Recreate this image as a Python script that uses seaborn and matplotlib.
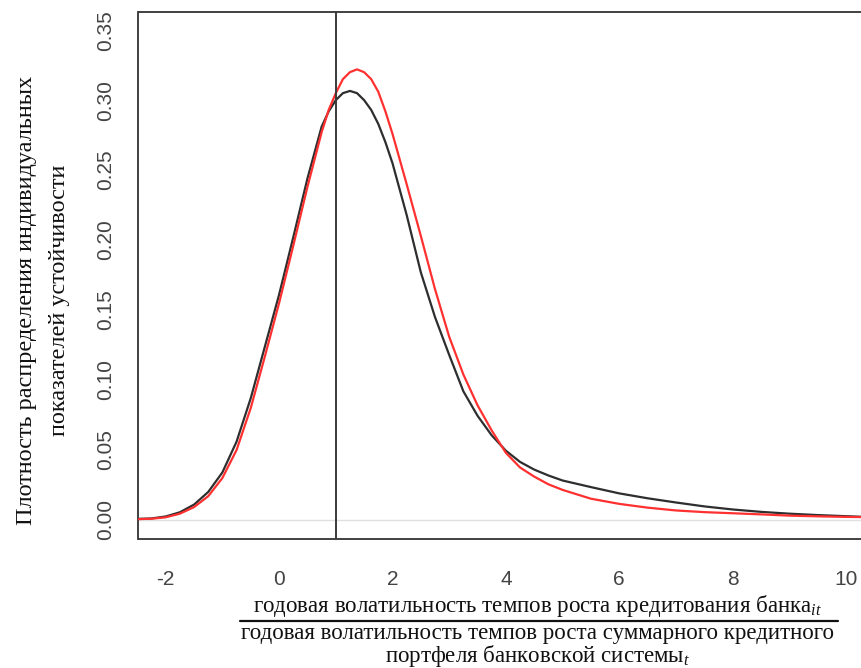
import matplotlib
matplotlib.use("Agg")
import matplotlib.pyplot as plt
import seaborn as sns
import pandas as pd
from matplotlib.lines import Line2D

# Density of individual stability indicators (two estimates)
x_black = [-2.48, -2.25, -2.0, -1.75, -1.5, -1.25, -1.0, -0.75, -0.5, -0.25, 0.0, 0.25, 0.5,
           0.75, 0.875, 1.0, 1.125, 1.25, 1.375, 1.5, 1.625, 1.75, 1.875, 2.0, 2.25, 2.5,
           2.75, 3.0, 3.25, 3.5, 3.75, 4.0, 4.25, 4.5, 4.75, 5.0, 5.5, 6.0, 6.5, 7.0, 7.5,
           8.0, 8.5, 9.0, 9.5, 10.0, 10.45]
y_black = [0.0008, 0.0011, 0.0025, 0.0055, 0.0110, 0.0200, 0.0340, 0.0560, 0.0870, 0.1240, 0.1610, 0.2020, 0.2440,
           0.2810, 0.2920, 0.3000, 0.3050, 0.3066, 0.3050, 0.3000, 0.2930, 0.2830, 0.2700, 0.2550, 0.2180, 0.1770,
           0.1450, 0.1180, 0.0920, 0.0745, 0.0605, 0.0495, 0.0415, 0.0360, 0.0318, 0.0282, 0.0235, 0.0190, 0.0155, 0.0125, 0.0097,
           0.0075, 0.0058, 0.0045, 0.0035, 0.0027, 0.0020]

x_red = [-2.48, -2.25, -2.0, -1.75, -1.5, -1.25, -1.0, -0.75, -0.5, -0.25, 0.0, 0.25, 0.5,
         0.75, 0.875, 1.0, 1.125, 1.25, 1.375, 1.5, 1.625, 1.75, 1.875, 2.0, 2.25, 2.5,
         2.75, 3.0, 3.25, 3.5, 3.75, 4.0, 4.25, 4.5, 4.75, 5.0, 5.5, 6.0, 6.5, 7.0, 7.5,
         8.0, 8.5, 9.0, 9.5, 10.0, 10.45]
y_red = [0.0006, 0.0009, 0.0019, 0.0045, 0.0092, 0.0170, 0.0300, 0.0500, 0.0800, 0.1170, 0.1550, 0.1960, 0.2380,
         0.2770, 0.2930, 0.3050, 0.3150, 0.3200, 0.3220, 0.3200, 0.3150, 0.3060, 0.2920, 0.2760, 0.2400, 0.2030,
         0.1650, 0.1310, 0.1040, 0.0820, 0.0640, 0.0480, 0.0375, 0.0310, 0.0255, 0.0215, 0.0152, 0.0115, 0.0088, 0.0068, 0.0056,
         0.0048, 0.0040, 0.0031, 0.0026, 0.0022, 0.0020]

threshold = 1.0
x_ticks = [-2, 0, 2, 4, 6, 8, 10]
y_ticks = [0.00, 0.05, 0.10, 0.15, 0.20, 0.25, 0.30, 0.35]
y_tick_labels = ["0.00", "0.05", "0.10", "0.15", "0.20", "0.25", "0.30", "0.35"]

ylabel_lines = ["Плотность распределения индивидуальных",
                "показателей устойчивости"]
xlabel_num = "годовая волатильность темпов роста кредитования банка$_{it}$"
xlabel_den1 = "годовая волатильность темпов роста суммарного кредитного"
xlabel_den2 = "портфеля банковской системы$_{t}$"

sns.set_theme(style="white")
plt.rcParams["font.family"] = ["Liberation Sans", "DejaVu Sans"]
plt.rcParams["mathtext.fontset"] = "custom"
plt.rcParams["mathtext.rm"] = "Liberation Serif"
plt.rcParams["mathtext.it"] = "Liberation Serif:italic"

W, H = 862, 668
fig = plt.figure(figsize=(W / 100, H / 100), dpi=100)
ax = fig.add_axes([138.5 / W, 1 - 539 / H, 733 / W, (539 - 12) / H])

df_black = pd.DataFrame({"x": x_black, "y": y_black})
df_red = pd.DataFrame({"x": x_red, "y": y_red})

ax.axhline(0, color="#e0e0e0", lw=1.0, zorder=1)
sns.lineplot(data=df_black, x="x", y="y", color="#2e2e2e", lw=1.6, ax=ax, zorder=3)
sns.lineplot(data=df_red, x="x", y="y", color="#ff3030", lw=1.6, ax=ax, zorder=4)
ax.axvline(threshold, color="#3a3a3a", lw=1.4, zorder=5)

ax.set_xlim(-2.48, 10.45)
ax.set_ylim(-0.0136, 0.363)
ax.set_xlabel("")
ax.set_ylabel("")

ax.set_xticks(x_ticks)
ax.set_xticklabels([str(v) for v in x_ticks])
ax.set_yticks(y_ticks)
ax.set_yticklabels(y_tick_labels, rotation=90, va="center")
ax.tick_params(axis="both", direction="out", length=9, width=1.2, color="#444444",
               labelsize=15, labelcolor="#444444")
ax.tick_params(axis="x", pad=13)
ax.tick_params(axis="y", pad=8)
for sp in ax.spines.values():
    sp.set_color("#333333")
    sp.set_linewidth(1.3)

# y-axis title in two lines
fig.text(27 / W, 1 - 300 / H, ylabel_lines[0], rotation=90, ha="center", va="center",
         fontsize=17.5, family="Liberation Serif", color="#111111")
fig.text(60 / W, 1 - 300 / H, ylabel_lines[1], rotation=90, ha="center", va="center",
         fontsize=17.5, family="Liberation Serif", color="#111111")

# x-axis title as a fraction
cx = 538 / W
fig.text(cx, 1 - 606 / H, xlabel_num, ha="center", va="center",
         fontsize=16.5, family="Liberation Serif", color="#111111")
fig.add_artist(Line2D([240 / W, 838 / W], [1 - 621 / H, 1 - 621 / H],
                      transform=fig.transFigure, color="#111111", lw=1.6))
fig.text(cx, 1 - 634 / H, xlabel_den1, ha="center", va="center",
         fontsize=16.5, family="Liberation Serif", color="#111111")
fig.text(cx, 1 - 656 / H, xlabel_den2, ha="center", va="center",
         fontsize=16.5, family="Liberation Serif", color="#111111")

fig.savefig("out.png", dpi=100)
